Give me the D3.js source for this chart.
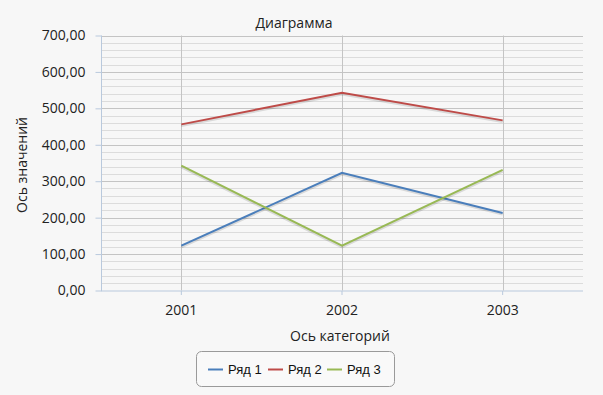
<!DOCTYPE html>
<html>
<head>
<meta charset="utf-8">
<script src="https://cdn.jsdelivr.net/npm/d3@7"></script>
<style>
  html, body { margin: 0; padding: 0; background: #f7f7f7; }
  svg { display: block; font-family: "Open Sans", sans-serif; }
</style>
</head>
<body>
<div id="chart"></div>
<script>
// data
const categories = ['2001', '2002', '2003'];
const seriesNames = ['Ряд 1', 'Ряд 2', 'Ряд 3'];
const series1 = [123, 323, 213];
const series2 = [456, 543, 467];
const series3 = [343, 123, 331];
const yTicks = [0, 100, 200, 300, 400, 500, 600, 700];

const seriesValues = [series1, series2, series3];
const colors = ['#4a7ebb', '#be4b48', '#98b954'];

const W = 603, H = 395;
const plot = { left: 101, right: 583, top: 35.5, bottom: 290.5 };

const svg = d3.select('#chart').append('svg')
    .attr('width', W)
    .attr('height', H);

svg.append('rect').attr('width', W).attr('height', H).attr('fill', '#f7f7f7');

const x = d3.scaleBand()
    .domain(categories)
    .range([plot.left, plot.right]);

const y = d3.scaleLinear()
    .domain([0, 700])
    .range([plot.bottom, plot.top]);

// minor grid lines
const minor = d3.range(0, 701, 20).filter(v => v % 100 !== 0);
svg.append('g').selectAll('line')
    .data(minor)
    .enter().append('line')
    .attr('x1', plot.left).attr('x2', plot.right)
    .attr('y1', d => Math.round(y(d)) + 0.5).attr('y2', d => Math.round(y(d)) + 0.5)
    .attr('stroke', '#dcdcdc');

// major grid lines
svg.append('g').selectAll('line')
    .data(yTicks.filter(v => v > 0))
    .enter().append('line')
    .attr('x1', plot.left).attr('x2', plot.right)
    .attr('y1', d => Math.round(y(d)) + 0.5).attr('y2', d => Math.round(y(d)) + 0.5)
    .attr('stroke', '#c4c4c4');

// vertical grid at category centers
svg.append('g').selectAll('line')
    .data(categories)
    .enter().append('line')
    .attr('x1', d => Math.round(x(d) + x.bandwidth() / 2) + 0.5)
    .attr('x2', d => Math.round(x(d) + x.bandwidth() / 2) + 0.5)
    .attr('y1', plot.top).attr('y2', plot.bottom)
    .attr('stroke', '#c4c4c4');

// y axis
const fmt = v => d3.format('.2f')(v).replace('.', ',');
const yAxis = svg.append('g')
    .attr('transform', `translate(${plot.left + 0.5},0)`)
    .call(d3.axisLeft(y).tickValues(yTicks).tickFormat(fmt).tickSize(6).tickPadding(10));
yAxis.select('.domain').attr('stroke', '#b9c9dd').attr('d', `M0,${plot.top}V${plot.bottom + 0.5}`);
yAxis.selectAll('.tick line').attr('stroke', '#b9c9dd');
yAxis.selectAll('.tick text').attr('fill', '#222').style('font-size', '14px')
    .style('font-family', '"Open Sans", sans-serif');

// x axis
const xAxis = svg.append('g')
    .attr('transform', `translate(0,${plot.bottom + 0.5})`)
    .call(d3.axisBottom(x).tickSize(4).tickPadding(10));
xAxis.select('.domain').attr('stroke', '#b9c9dd').attr('d', `M${plot.left},0H${plot.right}`);
xAxis.selectAll('.tick line').attr('stroke', '#b9c9dd');
xAxis.selectAll('.tick text').attr('fill', '#222').style('font-size', '14px')
    .style('font-family', '"Open Sans", sans-serif');

// lines
const line = d3.line()
    .x((d, i) => x(categories[i]) + x.bandwidth() / 2)
    .y(d => y(d));

seriesValues.forEach((vals, i) => {
    // soft shadow
    svg.append('path')
        .datum(vals)
        .attr('d', line)
        .attr('fill', 'none')
        .attr('stroke', 'rgba(0,0,0,0.12)')
        .attr('stroke-width', 2.5)
        .attr('transform', 'translate(0,1.5)');
    svg.append('path')
        .datum(vals)
        .attr('d', line)
        .attr('fill', 'none')
        .attr('stroke', colors[i])
        .attr('stroke-width', 2);
});

// titles
svg.append('text')
    .attr('x', 294).attr('y', 28)
    .attr('text-anchor', 'middle')
    .attr('fill', '#222')
    .style('font-size', '14px')
    .text('Диаграмма');

svg.append('text')
    .attr('transform', `translate(27,165) rotate(-90)`)
    .attr('text-anchor', 'middle')
    .attr('fill', '#222')
    .style('font-size', '14px')
    .text('Ось значений');

svg.append('text')
    .attr('x', 340).attr('y', 341)
    .attr('text-anchor', 'middle')
    .attr('fill', '#222')
    .style('font-size', '14px')
    .text('Ось категорий');

// legend
const legend = svg.append('g');
legend.append('rect')
    .attr('x', 196.5).attr('y', 351.5)
    .attr('width', 198).attr('height', 35)
    .attr('rx', 5)
    .attr('fill', '#f9f9f9')
    .attr('stroke', '#9a9a9a');

const legendX = [208, 268, 327];
seriesNames.forEach((name, i) => {
    const g = legend.append('g').attr('transform', `translate(${legendX[i]},369)`);
    g.append('line')
        .attr('x1', 0).attr('x2', 15)
        .attr('y1', 0.5).attr('y2', 0.5)
        .attr('stroke', colors[i])
        .attr('stroke-width', 2);
    g.append('text')
        .attr('x', 20).attr('y', 5)
        .attr('fill', '#111')
        .style('font-family', '"Liberation Sans", Arial, sans-serif')
        .style('font-size', '13px')
        .text(name);
});
</script>
</body>
</html>
